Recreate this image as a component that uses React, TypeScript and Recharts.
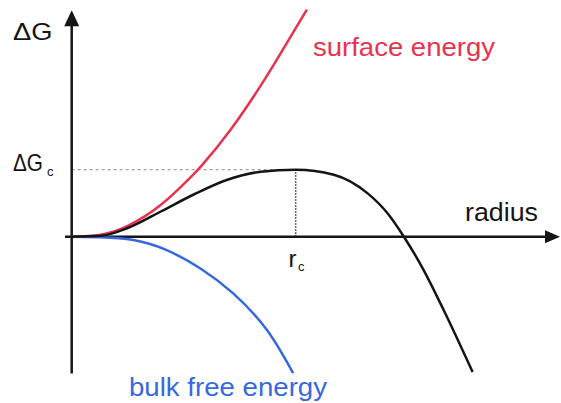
import React from "react";
import { LineChart, Line, XAxis, YAxis, ReferenceLine, ReferenceDot } from "recharts";

// radius (r_c = 10) and free energy (ΔG_c = 10), arbitrary units
const surfaceR = [0, 1.3, 2.5, 4, 5.2, 5.8, 7.1, 8.6, 9.6, 10.5];
const surfaceG = [0, 0.3, 1.6, 4.8, 8.5, 10.6, 16, 23.4, 28.9, 33.9];
const bulkR = [0, 1.26, 2.75, 4.24, 5.73, 7.21, 8.71, 9.89];
const bulkG = [0, -0.09, -0.49, -2.0, -4.7, -8.45, -13.9, -20.4];
const totalR = [0, 1.3, 2.5, 4, 5.45, 6.95, 8.44, 10, 11.7, 13.2, 14.1, 14.83, 15.7, 16.6, 17.9];
const totalG = [0, 0.15, 1.3, 3.8, 6.3, 8.5, 9.7, 10, 9.25, 6.5, 3.5, 0, -4.9, -10.9, -20.2];

const critical = { r: 10, g: 10 };
const seriesLabels = ["surface energy", "bulk free energy"];
const axisLabels = ["ΔG", "radius"];
const tickLabels = ["ΔG", "r"];

const XMIN = 0;
const XMAX = 21.8;
const YMIN = -20.4;
const YMAX = 34;

const toRows = (rs: number[], gs: number[]) => rs.map((r, i) => ({ r, g: gs[i] }));

const surface = toRows(surfaceR, surfaceG);
const bulk = toRows(bulkR, bulkG);
const total = toRows(totalR, totalG);

const RED = "#e8334f";
const BLUE = "#3868e0";
const INK = "#151515";
const FONT = "'Liberation Sans', Arial, sans-serif";

const UpArrow = (p: any) => (
  <polygon points={`${p.cx},${p.cy} ${p.cx - 7.5},${p.cy + 16} ${p.cx + 7.5},${p.cy + 16}`} fill={INK} />
);
const RightArrow = (p: any) => (
  <polygon points={`${p.cx},${p.cy} ${p.cx - 15},${p.cy - 6.5} ${p.cx - 15},${p.cy + 6.5}`} fill={INK} />
);

export default function App() {
  return (
    <div style={{ position: "absolute", left: 0, top: 0, width: 561, height: 403, background: "#fff" }}>
      <LineChart
        width={561}
        height={403}
        margin={{ top: 8.9, right: 1, bottom: 29.6, left: 71.7 }}
      >
        <XAxis type="number" dataKey="r" domain={[XMIN, XMAX]} hide allowDataOverflow />
        <YAxis type="number" dataKey="g" domain={[YMIN, YMAX]} hide allowDataOverflow />

        <ReferenceLine
          segment={[{ x: 0, y: critical.g }, { x: critical.r, y: critical.g }]}
          stroke="#8a8a8a"
          strokeWidth={1}
          strokeDasharray="3 3"
          ifOverflow="visible"
        />
        <ReferenceLine
          segment={[{ x: critical.r, y: 0 }, { x: critical.r, y: critical.g }]}
          stroke="#333"
          strokeWidth={1.5}
          strokeDasharray="1.5 1.5"
          ifOverflow="visible"
        />

        <ReferenceLine
          segment={[{ x: -0.3, y: 0 }, { x: 21.2, y: 0 }]}
          stroke={INK}
          strokeWidth={2.5}
          ifOverflow="visible"
        />
        <ReferenceLine
          segment={[{ x: 0, y: YMIN }, { x: 0, y: 31.5 }]}
          stroke={INK}
          strokeWidth={2.5}
          ifOverflow="visible"
        />
        <ReferenceDot x={0} y={33.8} r={0} shape={UpArrow} ifOverflow="visible" />
        <ReferenceDot x={21.8} y={0} r={0} shape={RightArrow} ifOverflow="visible" />

        <Line data={surface} dataKey="g" type="natural" stroke={RED} strokeWidth={2.5} dot={false} isAnimationActive={false} />
        <Line data={bulk} dataKey="g" type="natural" stroke={BLUE} strokeWidth={2.5} dot={false} isAnimationActive={false} />
        <Line data={total} dataKey="g" type="monotone" stroke={INK} strokeWidth={2.5} dot={false} isAnimationActive={false} />

        <text x={13} y={39.5} fontFamily={FONT} fontSize={24} fill={INK} textLength={39.5} lengthAdjust="spacingAndGlyphs">{axisLabels[0]}</text>
        <text x={13} y={171} fontFamily={FONT} fontSize={24} fill={INK} textLength={30} lengthAdjust="spacingAndGlyphs">{tickLabels[0]}</text>
        <text x={47} y={175.5} fontFamily={FONT} fontSize={13} fill={INK} textLength={6.5} lengthAdjust="spacingAndGlyphs">c</text>
        <text x={288.5} y={267} fontFamily={FONT} fontSize={24} fill={INK} textLength={8} lengthAdjust="spacingAndGlyphs">{tickLabels[1]}</text>
        <text x={298} y={271} fontFamily={FONT} fontSize={13} fill={INK} textLength={6.5} lengthAdjust="spacingAndGlyphs">c</text>
        <text x={465} y={221} fontFamily={FONT} fontSize={25} fill={INK} textLength={73} lengthAdjust="spacingAndGlyphs">{axisLabels[1]}</text>
        <text x={313} y={56} fontFamily={FONT} fontSize={25} fill={RED} textLength={182} lengthAdjust="spacingAndGlyphs">{seriesLabels[0]}</text>
        <text x={129} y={395.5} fontFamily={FONT} fontSize={25} fill={BLUE} textLength={198} lengthAdjust="spacingAndGlyphs">{seriesLabels[1]}</text>
      </LineChart>
    </div>
  );
}
